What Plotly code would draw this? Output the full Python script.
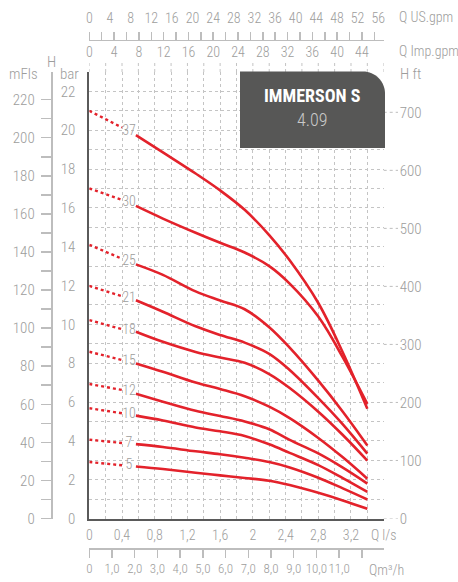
import plotly.graph_objects as go

# ---------------- data ----------------
STAGES = [5, 7, 10, 12, 15, 18, 21, 25, 30, 37]

# dotted (extrapolated) part of each curve, Q in l/s, H in bar
Q_DOT = [0.0, 0.40]
HD_5 = [2.91, 2.74]
HD_7 = [4.06, 3.89]
HD_10 = [5.68, 5.42]
HD_12 = [6.93, 6.62]
HD_15 = [8.59, 8.16]
HD_18 = [10.22, 9.75]
HD_21 = [11.98, 11.45]
HD_25 = [14.10, 13.38]
HD_30 = [17.00, 16.41]
HD_37 = [21.00, 20.14]

# solid part of each curve
Q_SOLID = [0.57, 0.90, 1.30, 1.60, 1.90, 2.20, 2.45, 2.80, 3.10, 3.40]
H_5 = [2.68, 2.55, 2.36, 2.22, 2.09, 1.94, 1.72, 1.32, 0.93, 0.50]
H_7 = [3.83, 3.68, 3.46, 3.31, 3.13, 2.91, 2.63, 2.10, 1.55, 0.98]
H_10 = [5.30, 5.05, 4.69, 4.49, 4.25, 3.82, 3.38, 2.75, 2.08, 1.37]
H_12 = [6.42, 6.02, 5.55, 5.28, 5.00, 4.60, 4.05, 3.35, 2.62, 1.80]
H_15 = [7.99, 7.56, 7.00, 6.67, 6.30, 5.76, 5.17, 4.15, 3.15, 2.05]
H_18 = [9.62, 9.10, 8.58, 8.29, 8.02, 7.44, 6.72, 5.50, 4.30, 2.98]
H_21 = [11.24, 10.65, 9.90, 9.45, 9.06, 8.48, 7.65, 6.20, 4.85, 3.34]
H_25 = [13.09, 12.55, 11.70, 11.23, 10.78, 9.85, 8.80, 7.10, 5.50, 3.76]
H_30 = [16.10, 15.45, 14.72, 14.20, 13.70, 13.00, 12.10, 10.40, 8.30, 5.90]
H_37 = [19.75, 18.86, 17.77, 16.90, 15.90, 14.60, 13.30, 11.10, 8.55, 5.65]

# axis ticks / labels
Q_LS_TICKS = [0, 0.4, 0.8, 1.2, 1.6, 2.0, 2.4, 2.8, 3.2, 3.6]
Q_LS_LABELS = ["0", "0,4", "0,8", "1,2", "1,6", "2", "2,4", "2,8", "3,2", "Q l/s"]
Q_LS_GRID = [0, 0.2, 0.4, 0.6, 0.8, 1.0, 1.2, 1.4, 1.6, 1.8, 2.0, 2.2, 2.4, 2.6,
             2.8, 3.0, 3.2, 3.4, 3.6]
Q_M3H_TICKS = [0, 1, 2, 3, 4, 5, 6, 7, 8, 9, 10, 11, 12]
Q_M3H_LABELS = ["0", "1,0", "2,0", "3,0", "4,0", "5,0", "6,0", "7,0", "8,0",
                "9,0", "10,0", "11,0", ""]
Q_US_TICKS = [0, 4, 8, 12, 16, 20, 24, 28, 32, 36, 40, 44, 48, 52, 56]
Q_IMP_TICKS = [0, 4, 8, 12, 16, 20, 24, 28, 32, 36, 40, 44]
Q_IMP_MARKS = [0, 2, 4, 6, 8, 10, 12, 14, 16, 18, 20, 22, 24, 26, 28, 30, 32,
               34, 36, 38, 40, 42, 44, 46]
H_BAR_TICKS = list(range(0, 24))
H_BAR_LABELS = [str(v) if v % 2 == 0 and v <= 22 else "" for v in H_BAR_TICKS]
H_M_TICKS = [0, 10, 20, 30, 40, 50, 60, 70, 80, 90, 100, 110, 120, 130, 140,
             150, 160, 170, 180, 190, 200, 210, 220]
H_M_LABELS = [str(v) if v % 20 == 0 else "" for v in H_M_TICKS]
H_FT_TICKS = [0, 100, 200, 300, 400, 500, 600, 700]

TITLE = "IMMERSON S"
SUBTITLE = "4.09"

# unit conversions
M_PER_BAR = 10.197
FT_PER_M = 1 / 0.3048
M3H_PER_LS = 3.6
USGPM_PER_LS = 15.850
IMPGPM_PER_LS = 13.198

# ---------------- style ----------------
W, H = 458, 582
RED = "#e3222b"
GRAY = "#9d9d9c"
LGRAY = "#bdbdbd"
GRID = "#c4c4c4"
AXC = "#5a5a5a"
FONT = "Roboto Condensed, Liberation Sans Narrow, Roboto, sans-serif"


def px(x):
    return x / W


def py(y):
    return 1 - y / H


X_LEFT, X_RIGHT = 89.3, 383.7
Y_TOP, Y_BOT = 72.0, 518.5
Q_MAX = 3.6
BAR_MAX = 23

dot_data = {5: HD_5, 7: HD_7, 10: HD_10, 12: HD_12, 15: HD_15, 18: HD_18,
            21: HD_21, 25: HD_25, 30: HD_30, 37: HD_37}
solid_data = {5: H_5, 7: H_7, 10: H_10, 12: H_12, 15: H_15, 18: H_18,
              21: H_21, 25: H_25, 30: H_30, 37: H_37}

fig = go.Figure()

for s in STAGES:
    fig.add_trace(go.Scatter(x=Q_DOT, y=dot_data[s], mode="lines",
                             line=dict(color=RED, width=2.4, dash="dot"),
                             hoverinfo="skip", showlegend=False))
    fig.add_trace(go.Scatter(x=Q_SOLID, y=solid_data[s], mode="lines",
                             line=dict(color=RED, width=2.6, shape="spline",
                                       smoothing=1.0),
                             hoverinfo="skip", showlegend=False))
    lx = (Q_DOT[-1] + Q_SOLID[0]) / 2
    ly = (dot_data[s][-1] + solid_data[s][0]) / 2
    fig.add_trace(go.Scatter(x=[lx], y=[ly], mode="text", text=[str(s)],
                             textfont=dict(family=FONT, size=14, color=GRAY,
                                           weight=300),
                             hoverinfo="skip", showlegend=False))

# invisible helper traces so every auxiliary axis gets drawn
for xa, ya in [("x2", "y"), ("x3", "y"), ("x4", "y"), ("x5", "y"), ("x6", "y"),
               ("x", "y2"), ("x", "y3")]:
    fig.add_trace(go.Scatter(x=[None], y=[None], xaxis=xa, yaxis=ya,
                             mode="lines", hoverinfo="skip", showlegend=False))

tickfont = dict(family=FONT, size=15, color=GRAY, weight=300)
midfont = dict(family=FONT, size=14, color=GRAY, weight=300)
smallfont = dict(family=FONT, size=13, color=GRAY, weight=300)
xdom = [px(X_LEFT), px(X_RIGHT)]
ydom = [py(Y_BOT), py(Y_TOP)]

common = dict(automargin=False, fixedrange=True, zeroline=False)

fig.update_layout(
    width=W, height=H,
    margin=dict(l=0, r=0, t=0, b=0, pad=0, autoexpand=False),
    paper_bgcolor="white", plot_bgcolor="white",
    showlegend=False, hovermode=False,
    font=dict(family=FONT, color=GRAY),
    xaxis=dict(domain=xdom, range=[0, Q_MAX], anchor="y",
               tickmode="array", tickvals=Q_LS_GRID, showticklabels=False,
               ticks="", showgrid=True, gridcolor=GRID, griddash="dot",
               gridwidth=1, showline=True, linecolor=AXC,
               linewidth=2, **common),
    xaxis2=dict(overlaying="x", anchor="y", side="bottom", range=[0, Q_MAX],
                tickmode="array", tickvals=Q_LS_TICKS, ticktext=Q_LS_LABELS,
                showgrid=False, showline=False, ticks="", tickangle=0,
                tickfont=midfont, ticklabelstandoff=6, **common),
    xaxis3=dict(overlaying="x", anchor="free", position=py(548), side="bottom",
                range=[0, Q_MAX * M3H_PER_LS], tickmode="array",
                tickvals=Q_M3H_TICKS, ticktext=Q_M3H_LABELS, showgrid=False,
                showline=True, linecolor=LGRAY, linewidth=1.5,
                ticks="outside", ticklen=8, tickcolor=LGRAY, tickwidth=1.5,
                tickangle=0, tickfont=smallfont, **common),
    xaxis4=dict(overlaying="x", anchor="free", position=py(39.5), side="top",
                range=[0, Q_MAX * IMPGPM_PER_LS], tickmode="array",
                tickvals=Q_IMP_MARKS, showticklabels=False, showgrid=False,
                showline=True, linecolor=LGRAY, linewidth=1.5,
                ticks="outside", ticklen=8, tickcolor=LGRAY, tickwidth=1.5,
                **common),
    xaxis5=dict(overlaying="x", anchor="free", position=py(42), side="bottom",
                range=[0, Q_MAX * IMPGPM_PER_LS], tickmode="array",
                tickvals=Q_IMP_TICKS, showgrid=False, tickangle=0,
                showline=False, ticks="", tickfont=midfont, **common),
    xaxis6=dict(overlaying="x", anchor="free", position=py(26), side="top",
                range=[0, Q_MAX * USGPM_PER_LS], tickmode="array",
                tickvals=Q_US_TICKS, showgrid=False, tickangle=0,
                showline=False, ticks="", tickfont=midfont, **common),
    yaxis=dict(domain=ydom, range=[0, BAR_MAX], anchor="x", tickmode="array",
               tickvals=H_BAR_TICKS, ticktext=H_BAR_LABELS, showgrid=True,
               gridcolor=GRID, griddash="dot", gridwidth=1,
               showline=True, linecolor=AXC, linewidth=2, ticks="",
               tickfont=tickfont, ticklabelstandoff=9, **common),
    yaxis2=dict(overlaying="y", anchor="free", position=px(51.7), side="left",
                range=[0, BAR_MAX * M_PER_BAR], tickmode="array",
                tickvals=H_M_TICKS, ticktext=H_M_LABELS, showgrid=False,
                showline=True, linecolor=LGRAY, linewidth=2,
                ticks="outside", ticklen=10, tickcolor=LGRAY, tickwidth=1.5,
                tickfont=tickfont, ticklabelstandoff=3, **common),
    yaxis3=dict(overlaying="y", anchor="x", side="right",
                range=[0, BAR_MAX * M_PER_BAR * FT_PER_M], tickmode="array",
                tickvals=H_FT_TICKS, showgrid=False,
                showline=False, ticks="", tickfont=tickfont,
                ticklabelstandoff=15, **common),
)

shapes = []
# short dotted extensions of the vertical grid above the plot frame
for q in Q_LS_GRID:
    shapes.append(dict(type="line", xref="x", yref="paper", x0=q, x1=q,
                       y0=py(Y_TOP), y1=py(62),
                       line=dict(color=GRID, width=1, dash="dot"),
                       layer="below"))
# leaders of the ft axis
for v in H_FT_TICKS:
    shapes.append(dict(type="line", xref="paper", yref="y3",
                       x0=px(X_RIGHT), x1=px(398), y0=v, y1=v,
                       line=dict(color=LGRAY, width=1, dash="dot"),
                       layer="below"))
# title box with rounded top-right corner
bx0, bx1, by0, by1 = px(240), px(385), py(148), py(71.5)
rx, ry = 22 / W, 22 / H
k = 0.5523
path = (f"M {bx0},{by0} L {bx0},{by1} L {bx1 - rx},{by1} "
        f"C {bx1 - rx * (1 - k)},{by1} {bx1},{by1 - ry * (1 - k)} {bx1},{by1 - ry} "
        f"L {bx1},{by0} Z")
shapes.append(dict(type="path", xref="paper", yref="paper", path=path,
                   fillcolor="#575756", line=dict(width=0), layer="above"))
fig.update_layout(shapes=shapes)

ann = []


def label(text, x, y, xanchor="center", size=15, color=GRAY, weight=300):
    f = dict(family=FONT, size=size, color=color, weight=weight)
    ann.append(dict(text=text, x=px(x), y=py(y), xref="paper", yref="paper",
                    xanchor=xanchor, yanchor="middle", showarrow=False, font=f))


label("mFls", 23, 74)
label("bar", 69, 74)
label("H", 51.5, 62)
label("H ft", 398, 74, xanchor="left")
label("Q US.gpm", 397, 17, xanchor="left", size=14)
label("Q Imp.gpm", 397, 51, xanchor="left", size=14)
label("Qm³/h", 367, 570, xanchor="left", size=14)
label(TITLE, 312.5, 96, size=18, color="white", weight="bold")
label(SUBTITLE, 312.5, 120, size=18, color="#c9c9c9")
fig.update_layout(annotations=ann)

fig.write_html("out.html",
               config={"displayModeBar": False, "staticPlot": True},
               post_script="document.body.style.margin='0';"
                           "document.body.style.overflow='hidden';")
